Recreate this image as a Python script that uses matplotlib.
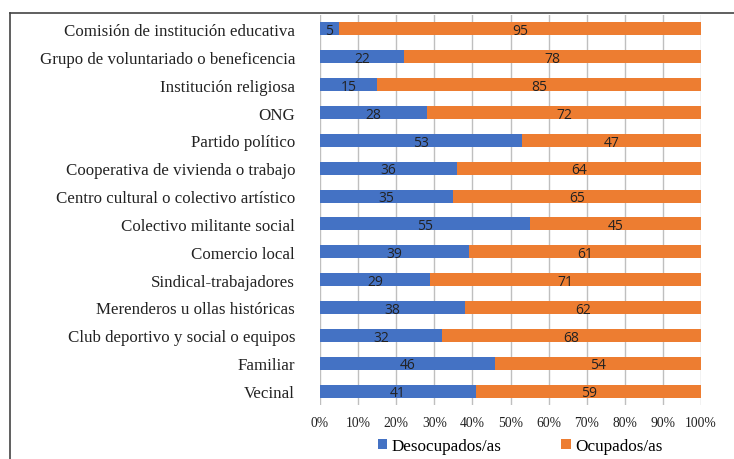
import matplotlib
matplotlib.use("Agg")
import matplotlib.pyplot as plt
from matplotlib.lines import Line2D
import numpy as np

categorias = [
    "Comisión de institución educativa",
    "Grupo de voluntariado o beneficencia",
    "Institución religiosa",
    "ONG",
    "Partido político",
    "Cooperativa de vivienda o trabajo",
    "Centro cultural o colectivo artístico",
    "Colectivo militante social",
    "Comercio local",
    "Sindical-trabajadores",
    "Merenderos u ollas históricas",
    "Club deportivo y social o equipos",
    "Familiar",
    "Vecinal",
]
desocupados = [5, 22, 15, 28, 53, 36, 35, 55, 39, 29, 38, 32, 46, 41]
ocupados = [95, 78, 85, 72, 47, 64, 65, 45, 61, 71, 62, 68, 54, 59]
ticks = list(range(0, 101, 10))

azul = "#4472C4"
naranja = "#ED7D31"
serif = "Liberation Serif"

fig = plt.figure(figsize=(7.34, 4.60), dpi=100)
ax = fig.add_axes([320 / 734, 1 - 406 / 460, 381 / 734, 390 / 460])

y = np.arange(len(categorias))
ax.barh(y, desocupados, height=0.47, color=azul, label="Desocupados/as", zorder=2)
ax.barh(y, ocupados, left=desocupados, height=0.47, color=naranja, label="Ocupados/as", zorder=2)

# etiquetas de valores
for i in range(len(categorias)):
    ax.text(desocupados[i] / 2, y[i] + 0.06, str(desocupados[i]), ha="center", va="center",
            fontsize=10, family="Open Sans", color="#222222", zorder=3)
    ax.text(desocupados[i] + ocupados[i] / 2, y[i] + 0.06, str(ocupados[i]), ha="center", va="center",
            fontsize=10, family="Open Sans", color="#222222", zorder=3)

ax.set_xlim(0, 100)
ax.set_ylim(len(categorias) - 0.5, -0.5)
ax.set_yticks(y)
ax.set_yticklabels(categorias, family=serif, fontsize=12.2, color="#222222")
ax.set_xticks(ticks)
ax.set_xticklabels([f"{t}%" for t in ticks], family=serif, fontsize=9.8, color="#222222")
ax.tick_params(axis="both", length=0)
ax.tick_params(axis="y", pad=18)
ax.tick_params(axis="x", pad=8)
for s in ax.spines.values():
    s.set_visible(False)
ax.grid(axis="x", color="#BFBFBF", linewidth=1, zorder=0)
ax.axvline(0, color="#BFBFBF", linewidth=1.2, zorder=1)

leg = fig.legend(loc="center", bbox_to_anchor=(520 / 734, 1 - 447 / 460), ncol=2,
                 frameon=False, handlelength=0.55, handleheight=0.55, handletextpad=0.25,
                 columnspacing=3.5, prop={"family": serif, "size": 12.3})

# marco exterior
fig.add_artist(Line2D([10 / 734, 1], [1 - 14 / 460, 1 - 14 / 460], color="#444444", linewidth=1.2))
fig.add_artist(Line2D([10 / 734, 10 / 734], [0, 1 - 14 / 460], color="#444444", linewidth=1.2))

fig.savefig("out.png", dpi=100)
